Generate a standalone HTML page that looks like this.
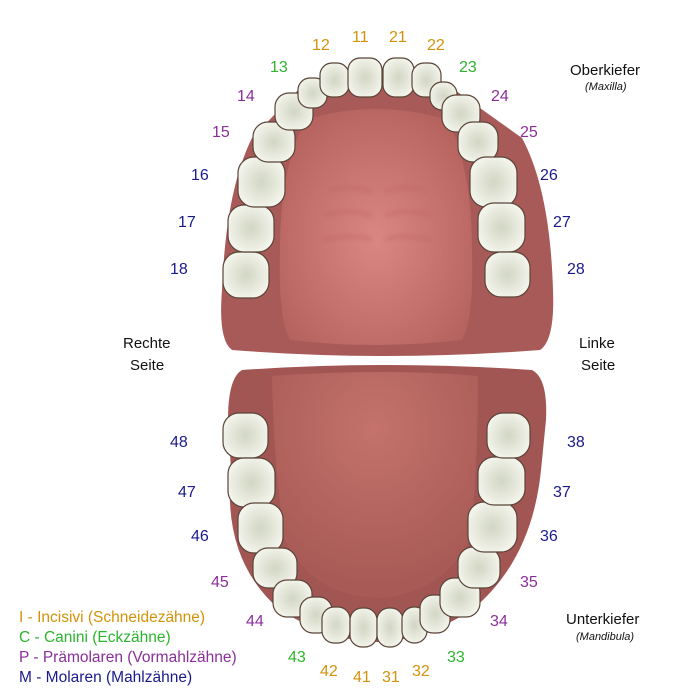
<!DOCTYPE html>
<html><head><meta charset="utf-8"><style>
html,body{margin:0;padding:0;background:#fff;}
svg{display:block;}
text{font-family:"Liberation Sans",sans-serif;}
</style></head><body>
<svg width="700" height="700" viewBox="0 0 700 700" xmlns="http://www.w3.org/2000/svg">
<defs>
<radialGradient id="t" cx="50%" cy="50%" r="60%">
<stop offset="0" stop-color="#d2d6c4"/><stop offset="0.45" stop-color="#e2e5d7"/><stop offset="1" stop-color="#f8f8f1"/>
</radialGradient>
<radialGradient id="pal" cx="50%" cy="55%" r="60%">
<stop offset="0" stop-color="#da8682"/><stop offset="1" stop-color="#b6625e"/>
</radialGradient>
<radialGradient id="ton" cx="50%" cy="25%" r="70%">
<stop offset="0" stop-color="#c4726b"/><stop offset="1" stop-color="#a85a56"/>
</radialGradient>
<filter id="bl"><feGaussianBlur stdDeviation="2"/></filter>
</defs>
<path d="M300,88 Q375,68 452,88 L522,138 Q550,190 553,290 Q555,340 540,350 Q385,362 232,350 Q218,340 222,290 Q226,190 252,138 Z" fill="#a85a58"/>
<path d="M305,120 Q375,98 448,120 Q472,170 472,250 Q474,320 462,340 Q375,350 290,340 Q278,320 280,250 Q280,170 305,120 Z" fill="url(#pal)"/>
<g stroke="#b8625e" stroke-width="4" opacity="0.35" fill="none" filter="url(#bl)">
<path d="M330,190 Q355,185 372,192 M385,192 Q400,185 425,190"/>
<path d="M325,215 Q352,208 372,216 M385,216 Q402,208 430,215"/>
<path d="M322,240 Q352,233 372,240 M385,240 Q402,233 432,240"/>
</g>
<path d="M242,370 Q385,360 532,370 Q548,378 546,420 L541,470 Q532,560 472,610 Q420,642 377,642 Q332,642 280,610 Q222,560 231,470 L228,420 Q228,378 242,370 Z" fill="#a25654"/>
<path d="M272,376 Q385,368 478,376 Q478,470 470,540 Q440,595 377,598 Q312,595 285,540 Q274,470 272,376 Z" fill="url(#ton)"/>
<g fill="url(#t)" stroke="#5a4438" stroke-width="1.2">
<rect x="223" y="252" width="46" height="46" rx="16"/>
<rect x="228" y="205" width="46" height="47" rx="16"/>
<rect x="238" y="157" width="47" height="50" rx="16"/>
<rect x="253" y="122" width="42" height="40" rx="15"/>
<rect x="275" y="93" width="38" height="37" rx="14"/>
<rect x="298" y="78" width="29" height="30" rx="12"/>
<rect x="320" y="63" width="29" height="34" rx="12"/>
<rect x="348" y="58" width="34" height="39" rx="12"/>
<rect x="383" y="58" width="31" height="39" rx="12"/>
<rect x="412" y="63" width="29" height="34" rx="12"/>
<rect x="430" y="82" width="27" height="28" rx="12"/>
<rect x="442" y="95" width="38" height="37" rx="14"/>
<rect x="458" y="122" width="40" height="40" rx="15"/>
<rect x="470" y="157" width="47" height="50" rx="16"/>
<rect x="478" y="203" width="47" height="49" rx="16"/>
<rect x="485" y="252" width="45" height="45" rx="16"/>
<rect x="223" y="413" width="45" height="45" rx="16"/>
<rect x="228" y="458" width="47" height="49" rx="16"/>
<rect x="238" y="503" width="45" height="50" rx="16"/>
<rect x="253" y="548" width="44" height="40" rx="15"/>
<rect x="273" y="580" width="39" height="37" rx="14"/>
<rect x="300" y="597" width="32" height="36" rx="13"/>
<rect x="322" y="607" width="28" height="36" rx="12"/>
<rect x="350" y="608" width="27" height="39" rx="12"/>
<rect x="377" y="608" width="26" height="39" rx="12"/>
<rect x="402" y="607" width="25" height="36" rx="12"/>
<rect x="420" y="595" width="30" height="38" rx="13"/>
<rect x="440" y="578" width="40" height="39" rx="14"/>
<rect x="458" y="547" width="42" height="41" rx="15"/>
<rect x="468" y="502" width="49" height="50" rx="16"/>
<rect x="478" y="457" width="47" height="48" rx="16"/>
<rect x="487" y="413" width="43" height="45" rx="16"/>
</g>
<g font-size="16">
<g fill="#d4920a"><text x="352" y="42">11</text><text x="389" y="42">21</text><text x="312" y="50">12</text><text x="427" y="50">22</text>
<text x="320" y="676">42</text><text x="353" y="682">41</text><text x="382" y="682">31</text><text x="412" y="676">32</text></g>
<g fill="#2db52d"><text x="270" y="72">13</text><text x="459" y="72">23</text><text x="288" y="662">43</text><text x="447" y="662">33</text></g>
<g fill="#8b2f9b"><text x="237" y="101">14</text><text x="491" y="101">24</text><text x="212" y="137">15</text><text x="520" y="137">25</text>
<text x="211" y="587">45</text><text x="520" y="587">35</text><text x="246" y="626">44</text><text x="490" y="626">34</text></g>
<g fill="#1a1a8c"><text x="191" y="180">16</text><text x="540" y="180">26</text><text x="178" y="227">17</text><text x="553" y="227">27</text><text x="170" y="274">18</text><text x="567" y="274">28</text>
<text x="170" y="447">48</text><text x="567" y="447">38</text><text x="178" y="497">47</text><text x="553" y="497">37</text><text x="191" y="541">46</text><text x="540" y="541">36</text></g>
</g>
<g font-size="15" fill="#111">
<text x="570" y="75">Oberkiefer</text>
<text x="585" y="90" font-size="11" font-style="italic">(Maxilla)</text>
<text x="123" y="348">Rechte</text><text x="130" y="370">Seite</text>
<text x="579" y="348">Linke</text><text x="581" y="370">Seite</text>
<text x="566" y="624">Unterkiefer</text>
<text x="576" y="640" font-size="11" font-style="italic">(Mandibula)</text>
</g>
<g font-size="15.5">
<text x="19" y="622" fill="#d4920a">I - Incisivi (Schneidezähne)</text>
<text x="19" y="642" fill="#2db52d">C - Canini (Eckzähne)</text>
<text x="19" y="662" fill="#8b2f9b">P - Prämolaren (Vormahlzähne)</text>
<text x="19" y="682" fill="#1a1a8c">M - Molaren (Mahlzähne)</text>
</g>
</svg>
</body></html>
